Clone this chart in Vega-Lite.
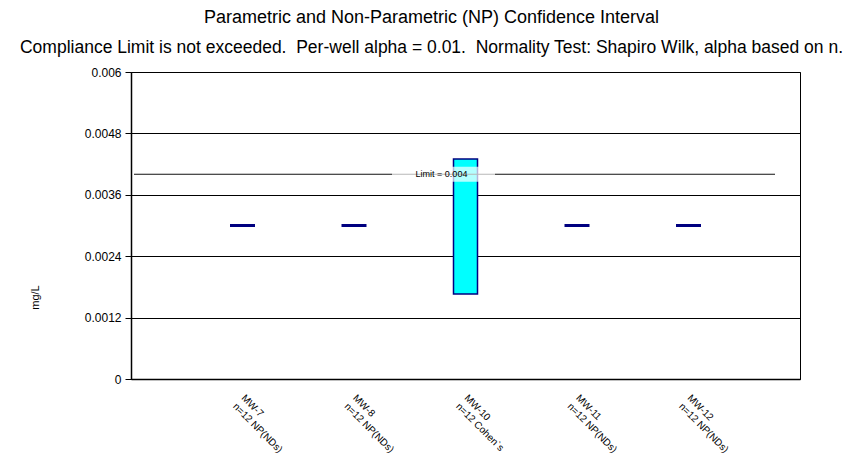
{
  "$schema": "https://vega.github.io/schema/vega-lite/v6.json",
  "autosize": {"type": "none"},
  "padding": {"left": 131, "top": 72, "right": 60, "bottom": 90},
  "width": 669,
  "height": 307,
  "background": "white",
  "config": {
    "font": "Liberation Sans",
    "view": {"stroke": "#000", "strokeWidth": 1}
  },
  "title": {
    "text": "Parametric and Non-Parametric (NP) Confidence Interval",
    "subtitle": "Compliance Limit is not exceeded. \u00a0Per-well alpha = 0.01. \u00a0Normality Test: Shapiro Wilk, alpha based on n.",
    "anchor": "middle",
    "dx": -34,
    "fontSize": 18,
    "fontWeight": "normal",
    "color": "#000",
    "subtitleFontSize": 17.5,
    "subtitleColor": "#000",
    "subtitlePadding": 12,
    "offset": 10,
    "font": "Liberation Sans",
    "subtitleFont": "Liberation Sans"
  },
  "datasets": {
    "wells": [
      {"well": "MW-7|n=12 NP(NDs)", "lower": 0.003, "upper": 0.003},
      {"well": "MW-8|n=12 NP(NDs)", "lower": 0.003, "upper": 0.003},
      {"well": "MW-10|n=12 Cohen`s", "lower": 0.00166, "upper": 0.0043},
      {"well": "MW-11|n=12 NP(NDs)", "lower": 0.003, "upper": 0.003},
      {"well": "MW-12|n=12 NP(NDs)", "lower": 0.003, "upper": 0.003}
    ],
    "limit": [
      {"limit": 0.004, "label": "Limit = 0.004"}
    ]
  },
  "layer": [
    {
      "data": {"name": "wells"},
      "transform": [{"filter": "datum.lower < datum.upper"}],
      "mark": {"type": "bar", "size": 24, "fill": "#00FFFF", "stroke": "#000080", "strokeWidth": 1.5},
      "encoding": {
        "x": {
          "field": "well", "type": "ordinal", "sort": null,
          "scale": {"type": "point", "padding": 1,
            "domain": ["MW-7|n=12 NP(NDs)", "MW-8|n=12 NP(NDs)", "MW-10|n=12 Cohen`s", "MW-11|n=12 NP(NDs)", "MW-12|n=12 NP(NDs)"]},
          "axis": {
            "title": null,
            "labelExpr": "split(datum.label, '|')",
            "labelAngle": 45,
            "labelAlign": "left",
            "labelBaseline": "middle",
            "labelFontSize": 10,
            "labelLineHeight": 12,
            "labelPadding": 17,
            "labelColor": "#000",
            "labelFont": "Liberation Sans",
            "ticks": false,
            "grid": false,
            "domainColor": "#000",
            "domainWidth": 1.5,
            "labelOverlap": false
          }
        },
        "y": {
          "field": "lower", "type": "quantitative",
          "scale": {"domain": [0, 0.006], "nice": false},
          "axis": {
            "title": "mg/L",
            "values": [0, 0.0012, 0.0024, 0.0036, 0.0048, 0.006],
            "labelExpr": "format(datum.value, '~g')",
            "grid": true,
            "gridColor": "#000",
            "gridWidth": 1,
            "gridOpacity": 1,
            "domainColor": "#000",
            "domainWidth": 1.5,
            "tickColor": "#000",
            "tickSize": 6,
            "labelFontSize": 12,
            "labelColor": "#000",
            "labelFont": "Liberation Sans",
            "labelPadding": 4,
            "titleFont": "Liberation Sans",
            "titleFontSize": 11,
            "titleFontWeight": "normal",
            "titleColor": "#000",
            "titleAngle": 270,
            "titleAlign": "center",
            "titleBaseline": "middle",
            "titleX": -96,
            "titleY": 225
          }
        },
        "y2": {"field": "upper"}
      }
    },
    {
      "data": {"name": "wells"},
      "transform": [{"filter": "datum.lower == datum.upper"}],
      "mark": {"type": "tick", "orient": "horizontal", "size": 25, "thickness": 3, "color": "#000080", "opacity": 1},
      "encoding": {
        "x": {"field": "well", "type": "ordinal", "sort": null},
        "y": {"field": "lower", "type": "quantitative"}
      }
    },
    {
      "data": {"name": "limit"},
      "mark": {"type": "tick", "orient": "horizontal", "size": 641, "thickness": 1, "color": "#111", "opacity": 1, "xOffset": -11},
      "encoding": {
        "y": {"field": "limit", "type": "quantitative"}
      }
    },
    {
      "data": {"name": "limit"},
      "mark": {"type": "tick", "orient": "horizontal", "size": 103, "thickness": 15, "color": "#fff", "opacity": 0.7, "xOffset": -22},
      "encoding": {
        "y": {"field": "limit", "type": "quantitative"}
      }
    },
    {
      "data": {"name": "limit"},
      "mark": {"type": "text", "fontSize": 9, "color": "#000", "dx": -24, "align": "center", "baseline": "middle", "font": "Liberation Sans"},
      "encoding": {
        "y": {"field": "limit", "type": "quantitative"},
        "text": {"field": "label"}
      }
    }
  ]
}
